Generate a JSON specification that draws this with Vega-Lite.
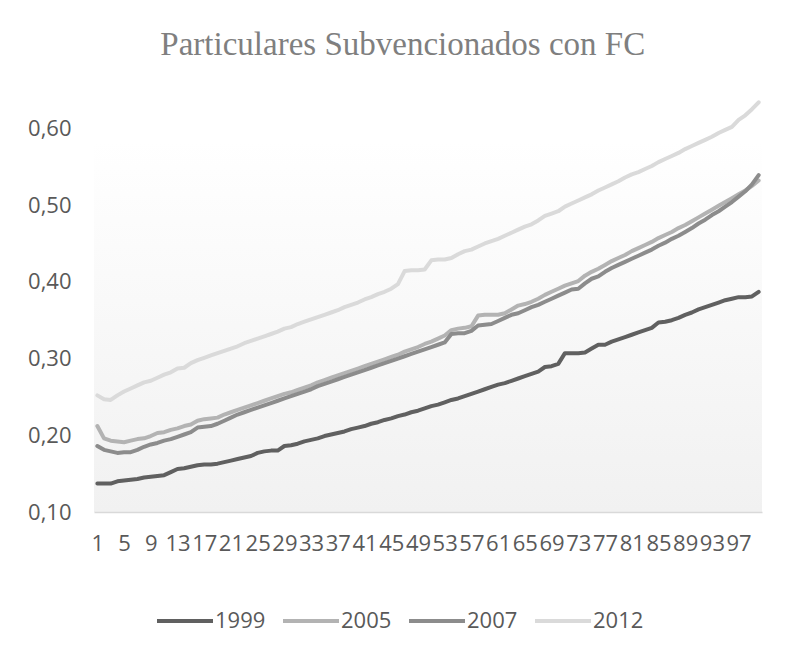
{
  "$schema": "https://vega.github.io/schema/vega-lite/v6.json",
  "width": 668,
  "height": 422,
  "autosize": {"type": "none"},
  "padding": {"left": 94, "top": 90, "right": 26, "bottom": 144},
  "background": "#ffffff",
  "title": {
    "text": "Particulares Subvencionados con FC",
    "font": "Liberation Serif",
    "fontSize": 33,
    "fontWeight": "normal",
    "color": "#7f7f7f",
    "anchor": "middle",
    "frame": "bounds",
    "dx": 8,
    "offset": 28
  },
  "config": {
    "locale": {"number": {"decimal": ",", "thousands": ".", "grouping": [3], "currency": ["", " €"]}},
    "view": {
      "stroke": null,
      "fill": {
        "gradient": "linear",
        "x1": 0, "y1": 0, "x2": 0, "y2": 1,
        "stops": [
          {"offset": 0, "color": "#ffffff"},
          {"offset": 0.12, "color": "#ffffff"},
          {"offset": 1, "color": "#f1f1f1"}
        ]
      }
    }
  },
  "data": {
    "values": [
      {"i":1,"1999":0.137,"2005":0.212,"2007":0.186,"2012":0.252},
      {"i":2,"1999":0.137,"2005":0.196,"2007":0.181,"2012":0.247},
      {"i":3,"1999":0.137,"2005":0.193,"2007":0.179,"2012":0.246},
      {"i":4,"1999":0.140,"2005":0.192,"2007":0.177,"2012":0.252},
      {"i":5,"1999":0.141,"2005":0.191,"2007":0.178,"2012":0.257},
      {"i":6,"1999":0.142,"2005":0.193,"2007":0.178,"2012":0.261},
      {"i":7,"1999":0.143,"2005":0.195,"2007":0.181,"2012":0.265},
      {"i":8,"1999":0.145,"2005":0.196,"2007":0.185,"2012":0.269},
      {"i":9,"1999":0.146,"2005":0.199,"2007":0.188,"2012":0.271},
      {"i":10,"1999":0.147,"2005":0.203,"2007":0.190,"2012":0.275},
      {"i":11,"1999":0.148,"2005":0.204,"2007":0.193,"2012":0.279},
      {"i":12,"1999":0.152,"2005":0.207,"2007":0.195,"2012":0.282},
      {"i":13,"1999":0.156,"2005":0.209,"2007":0.198,"2012":0.287},
      {"i":14,"1999":0.157,"2005":0.212,"2007":0.201,"2012":0.288},
      {"i":15,"1999":0.159,"2005":0.214,"2007":0.204,"2012":0.294},
      {"i":16,"1999":0.161,"2005":0.219,"2007":0.210,"2012":0.298},
      {"i":17,"1999":0.162,"2005":0.221,"2007":0.211,"2012":0.301},
      {"i":18,"1999":0.162,"2005":0.222,"2007":0.212,"2012":0.304},
      {"i":19,"1999":0.163,"2005":0.223,"2007":0.215,"2012":0.307},
      {"i":20,"1999":0.165,"2005":0.227,"2007":0.219,"2012":0.310},
      {"i":21,"1999":0.167,"2005":0.230,"2007":0.223,"2012":0.313},
      {"i":22,"1999":0.169,"2005":0.233,"2007":0.227,"2012":0.316},
      {"i":23,"1999":0.171,"2005":0.236,"2007":0.230,"2012":0.320},
      {"i":24,"1999":0.173,"2005":0.239,"2007":0.233,"2012":0.323},
      {"i":25,"1999":0.177,"2005":0.242,"2007":0.236,"2012":0.326},
      {"i":26,"1999":0.179,"2005":0.245,"2007":0.239,"2012":0.329},
      {"i":27,"1999":0.180,"2005":0.248,"2007":0.242,"2012":0.332},
      {"i":28,"1999":0.180,"2005":0.251,"2007":0.245,"2012":0.335},
      {"i":29,"1999":0.186,"2005":0.254,"2007":0.248,"2012":0.339},
      {"i":30,"1999":0.187,"2005":0.256,"2007":0.251,"2012":0.341},
      {"i":31,"1999":0.189,"2005":0.259,"2007":0.254,"2012":0.345},
      {"i":32,"1999":0.192,"2005":0.262,"2007":0.257,"2012":0.348},
      {"i":33,"1999":0.194,"2005":0.265,"2007":0.260,"2012":0.351},
      {"i":34,"1999":0.196,"2005":0.269,"2007":0.264,"2012":0.354},
      {"i":35,"1999":0.199,"2005":0.272,"2007":0.267,"2012":0.357},
      {"i":36,"1999":0.201,"2005":0.275,"2007":0.270,"2012":0.360},
      {"i":37,"1999":0.203,"2005":0.278,"2007":0.273,"2012":0.363},
      {"i":38,"1999":0.205,"2005":0.281,"2007":0.276,"2012":0.367},
      {"i":39,"1999":0.208,"2005":0.284,"2007":0.279,"2012":0.370},
      {"i":40,"1999":0.210,"2005":0.287,"2007":0.282,"2012":0.373},
      {"i":41,"1999":0.212,"2005":0.290,"2007":0.285,"2012":0.377},
      {"i":42,"1999":0.215,"2005":0.293,"2007":0.288,"2012":0.380},
      {"i":43,"1999":0.217,"2005":0.296,"2007":0.291,"2012":0.384},
      {"i":44,"1999":0.220,"2005":0.299,"2007":0.294,"2012":0.387},
      {"i":45,"1999":0.222,"2005":0.302,"2007":0.297,"2012":0.391},
      {"i":46,"1999":0.225,"2005":0.305,"2007":0.300,"2012":0.397},
      {"i":47,"1999":0.227,"2005":0.309,"2007":0.303,"2012":0.414},
      {"i":48,"1999":0.230,"2005":0.312,"2007":0.306,"2012":0.415},
      {"i":49,"1999":0.232,"2005":0.315,"2007":0.309,"2012":0.415},
      {"i":50,"1999":0.235,"2005":0.319,"2007":0.312,"2012":0.416},
      {"i":51,"1999":0.238,"2005":0.322,"2007":0.315,"2012":0.428},
      {"i":52,"1999":0.240,"2005":0.326,"2007":0.318,"2012":0.429},
      {"i":53,"1999":0.243,"2005":0.330,"2007":0.321,"2012":0.429},
      {"i":54,"1999":0.246,"2005":0.337,"2007":0.332,"2012":0.431},
      {"i":55,"1999":0.248,"2005":0.339,"2007":0.333,"2012":0.436},
      {"i":56,"1999":0.251,"2005":0.340,"2007":0.333,"2012":0.440},
      {"i":57,"1999":0.254,"2005":0.342,"2007":0.336,"2012":0.442},
      {"i":58,"1999":0.257,"2005":0.356,"2007":0.343,"2012":0.446},
      {"i":59,"1999":0.260,"2005":0.357,"2007":0.344,"2012":0.450},
      {"i":60,"1999":0.263,"2005":0.357,"2007":0.345,"2012":0.453},
      {"i":61,"1999":0.266,"2005":0.357,"2007":0.349,"2012":0.456},
      {"i":62,"1999":0.268,"2005":0.359,"2007":0.353,"2012":0.460},
      {"i":63,"1999":0.271,"2005":0.364,"2007":0.357,"2012":0.464},
      {"i":64,"1999":0.274,"2005":0.369,"2007":0.359,"2012":0.468},
      {"i":65,"1999":0.277,"2005":0.371,"2007":0.363,"2012":0.472},
      {"i":66,"1999":0.280,"2005":0.374,"2007":0.367,"2012":0.475},
      {"i":67,"1999":0.283,"2005":0.378,"2007":0.370,"2012":0.480},
      {"i":68,"1999":0.289,"2005":0.383,"2007":0.374,"2012":0.486},
      {"i":69,"1999":0.290,"2005":0.387,"2007":0.378,"2012":0.489},
      {"i":70,"1999":0.293,"2005":0.391,"2007":0.382,"2012":0.492},
      {"i":71,"1999":0.307,"2005":0.395,"2007":0.386,"2012":0.498},
      {"i":72,"1999":0.307,"2005":0.398,"2007":0.390,"2012":0.502},
      {"i":73,"1999":0.307,"2005":0.401,"2007":0.391,"2012":0.506},
      {"i":74,"1999":0.308,"2005":0.408,"2007":0.398,"2012":0.510},
      {"i":75,"1999":0.313,"2005":0.413,"2007":0.404,"2012":0.514},
      {"i":76,"1999":0.318,"2005":0.417,"2007":0.407,"2012":0.519},
      {"i":77,"1999":0.318,"2005":0.422,"2007":0.413,"2012":0.523},
      {"i":78,"1999":0.322,"2005":0.427,"2007":0.418,"2012":0.527},
      {"i":79,"1999":0.325,"2005":0.431,"2007":0.422,"2012":0.531},
      {"i":80,"1999":0.328,"2005":0.435,"2007":0.426,"2012":0.536},
      {"i":81,"1999":0.331,"2005":0.440,"2007":0.430,"2012":0.540},
      {"i":82,"1999":0.334,"2005":0.444,"2007":0.434,"2012":0.543},
      {"i":83,"1999":0.337,"2005":0.448,"2007":0.438,"2012":0.547},
      {"i":84,"1999":0.340,"2005":0.452,"2007":0.442,"2012":0.551},
      {"i":85,"1999":0.347,"2005":0.457,"2007":0.447,"2012":0.556},
      {"i":86,"1999":0.348,"2005":0.461,"2007":0.451,"2012":0.560},
      {"i":87,"1999":0.350,"2005":0.465,"2007":0.456,"2012":0.564},
      {"i":88,"1999":0.353,"2005":0.470,"2007":0.460,"2012":0.568},
      {"i":89,"1999":0.357,"2005":0.474,"2007":0.465,"2012":0.573},
      {"i":90,"1999":0.360,"2005":0.479,"2007":0.470,"2012":0.577},
      {"i":91,"1999":0.364,"2005":0.484,"2007":0.476,"2012":0.581},
      {"i":92,"1999":0.367,"2005":0.489,"2007":0.481,"2012":0.585},
      {"i":93,"1999":0.370,"2005":0.494,"2007":0.487,"2012":0.589},
      {"i":94,"1999":0.373,"2005":0.499,"2007":0.492,"2012":0.594},
      {"i":95,"1999":0.376,"2005":0.504,"2007":0.498,"2012":0.598},
      {"i":96,"1999":0.378,"2005":0.509,"2007":0.504,"2012":0.602},
      {"i":97,"1999":0.380,"2005":0.514,"2007":0.511,"2012":0.611},
      {"i":98,"1999":0.380,"2005":0.519,"2007":0.518,"2012":0.617},
      {"i":99,"1999":0.381,"2005":0.525,"2007":0.527,"2012":0.625},
      {"i":100,"1999":0.387,"2005":0.532,"2007":0.539,"2012":0.634}
    ]
  },
  "transform": [
    {"fold": ["1999", "2005", "2007", "2012"], "as": ["serie", "valor"]}
  ],
  "mark": {"type": "line", "strokeWidth": 4, "strokeCap": "round", "strokeJoin": "round"},
  "encoding": {
    "x": {
      "field": "i",
      "type": "ordinal",
      "sort": null,
      "scale": {"type": "point", "padding": 0.5},
      "axis": {
        "title": null,
        "values": [1,5,9,13,17,21,25,29,33,37,41,45,49,53,57,61,65,69,73,77,81,85,89,93,97],
        "labelAngle": 0,
        "labelOverlap": false,
        "labelFont": "Open Sans",
        "labelFontSize": 22,
        "labelColor": "#595959",
        "labelPadding": 21,
        "ticks": false,
        "tickSize": 0,
        "domain": true,
        "domainColor": "#d9d9d9",
        "domainWidth": 1.5,
        "grid": false
      }
    },
    "y": {
      "field": "valor",
      "type": "quantitative",
      "scale": {"domain": [0.1, 0.65], "nice": false, "zero": false},
      "axis": {
        "title": null,
        "values": [0.1, 0.2, 0.3, 0.4, 0.5, 0.6],
        "format": ".2f",
        "labelFont": "Open Sans",
        "labelFontSize": 22,
        "labelColor": "#595959",
        "labelPadding": 23,
        "ticks": false,
        "tickSize": 0,
        "domain": false,
        "grid": false
      }
    },
    "color": {
      "field": "serie",
      "type": "nominal",
      "scale": {"domain": ["1999", "2005", "2007", "2012"], "range": ["#606060", "#b3b3b3", "#8c8c8c", "#dadada"]},
      "legend": {
        "title": null,
        "orient": "none",
        "direction": "horizontal",
        "legendX": 61,
        "legendY": 501,
        "symbolType": "stroke",
        "symbolSize": 3136,
        "symbolStrokeWidth": 4,
        "labelFont": "Open Sans",
        "labelFontSize": 22,
        "labelColor": "#595959",
        "labelOffset": 0,
        "columnPadding": 9
      }
    }
  }
}
